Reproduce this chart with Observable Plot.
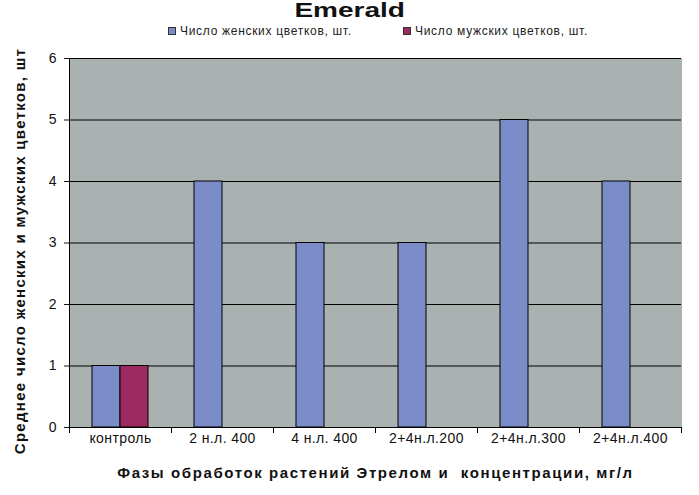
<!DOCTYPE html>
<html><head><meta charset="utf-8">
<script src="https://cdn.jsdelivr.net/npm/d3@7"></script>
<script src="https://cdn.jsdelivr.net/npm/@observablehq/plot@0.6"></script>
<style>
body{margin:0;background:#fff;font-family:"Liberation Sans",Arial,sans-serif;}
#wrap{position:relative;width:699px;height:495px;overflow:hidden;}
#title{position:absolute;top:-1px;left:0;width:699px;text-align:center;font-weight:bold;font-size:20px;line-height:22px;color:#111;transform:scaleX(1.4);transform-origin:349px 0;}
.leg{position:absolute;top:24px;font-size:12px;letter-spacing:0.7px;line-height:14px;color:#222;display:flex;align-items:center;white-space:nowrap;}
.sw{width:6px;height:6px;border:1px solid #333;margin-right:4px;}
#chart{position:absolute;top:40px;left:0;}
[aria-label="fx-axis label"] text{font-weight:bold;font-size:15px;letter-spacing:1.6px;}
[aria-label="fx-axis tick label"] text{font-size:14px;letter-spacing:0.4px;}
[aria-label="y-axis tick label"] text{font-size:14px;}
g[aria-label="text"] text{letter-spacing:1.3px;}
</style>
</head><body>
<div id="wrap">
<div id="title">Emerald</div>
<div id="legend"></div>
<div id="chart"></div>
</div>
<script>
const categories = ["контроль","2 н.л. 400","4 н.л. 400","2+4н.л.200","2+4н.л.300","2+4н.л.400"];
const series = ["Число женских цветков, шт.","Число мужских цветков, шт."];
const female = [1,4,3,3,5,4];
const male = [1,0,0,0,0,0];
const yTicks = [0,1,2,3,4,5,6];
const colors = ["#7a8dc8","#9b2a60"];
const yLabel = "Среднее число женских и мужских цветков, шт";
const xLabel = "Фазы обработок растений Этрелом и  концентрации, мг/л";

const data = categories.flatMap((c,i)=>[
  {cat:c, s:series[0], v:female[i]},
  {cat:c, s:series[1], v:male[i]}
]);

const legendPos = [168, 403];
const legend = document.getElementById("legend");
series.forEach((s,i)=>{
  const d = document.createElement("div");
  d.className = "leg";
  d.style.left = legendPos[i] + "px";
  d.innerHTML = `<span class="sw" style="background:${colors[i]}"></span><span>${s}</span>`;
  legend.appendChild(d);
});

const plotH = 455, mTop = 18, mBottom = 68;
const chart = Plot.plot({
  width: 699, height: plotH,
  marginTop: mTop, marginBottom: mBottom, marginLeft: 67, marginRight: 16,
  style: {fontFamily: "Liberation Sans, Arial, sans-serif", fontSize: "12px", color: "#111", background: "transparent"},
  fx: {domain: categories, padding: 0, label: xLabel, labelAnchor: "center", labelOffset: 50, tickSize: 0, tickPadding: 6, axis: "bottom"},
  x: {domain: series, paddingInner: 0, paddingOuter: 0.77, axis: null},
  y: {domain: [0,6], ticks: yTicks, tickFormat: d3.format("d"), label: null, tickSize: 5, tickPadding: 8},
  color: {domain: series, range: colors},
  marks: [
    Plot.frame({fill: "#aab1b1", stroke: null, insetLeft: -0.5, insetRight: -0.5}),
    Plot.gridY(yTicks, {stroke: "#000", strokeOpacity: 1}),
    Plot.barY(data, {fx: "cat", x: "s", y: "v", fill: "s", stroke: "#000", strokeWidth: 1}),
    Plot.ruleY([0], {stroke: "#000"}),
    Plot.frame({anchor: "left", facetAnchor: "left", stroke: "#000"}),
    Plot.frame({anchor: "left", insetTop: plotH - mTop - mBottom, insetBottom: -5, stroke: "#000"}),
    Plot.frame({anchor: "right", facetAnchor: "right", insetTop: plotH - mTop - mBottom, insetBottom: -5, stroke: "#000"}),
    Plot.text([yLabel], {text: d => d, facetAnchor: "left", frameAnchor: "left", textAnchor: "middle", rotate: -90, dx: -49, dy: 8,
      fontWeight: "bold", fontSize: 15, fill: "#111"})
  ]
});
document.getElementById("chart").appendChild(chart);
</script>
</body></html>
